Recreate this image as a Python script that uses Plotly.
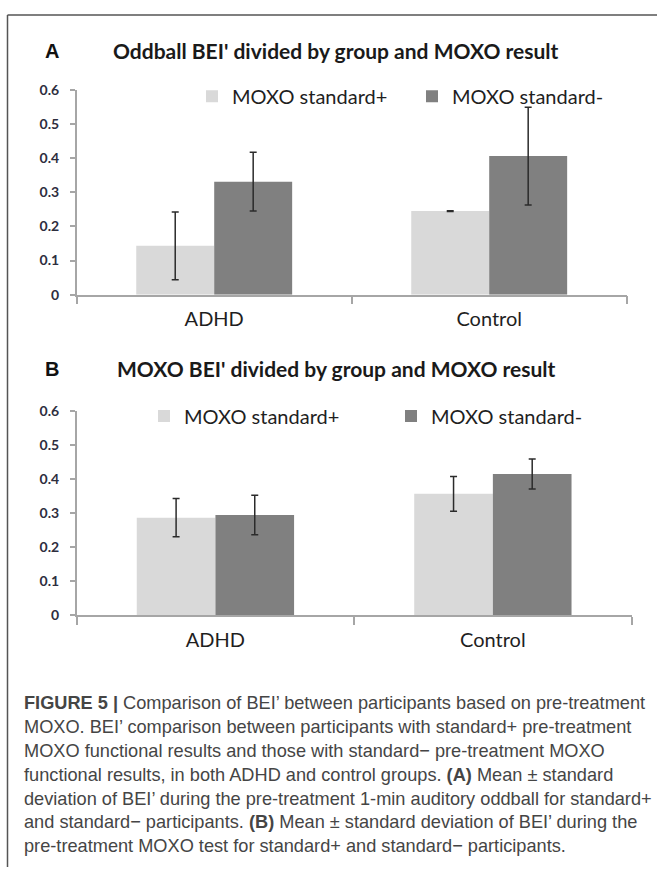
import plotly.graph_objects as go

W, H = 658, 875

groups = ["ADHD", "Control"]
series_names = ["MOXO standard+", "MOXO standard-"]

# Panel A: Oddball BEI'
a_plus_mean = [0.143, 0.245]
a_plus_sd = [0.099, 0.001]
a_minus_mean = [0.331, 0.406]
a_minus_sd = [0.086, 0.143]

# Panel B: MOXO BEI'
b_plus_mean = [0.287, 0.357]
b_plus_sd = [0.056, 0.051]
b_minus_mean = [0.295, 0.415]
b_minus_sd = [0.058, 0.044]

y_ticks = [0, 0.1, 0.2, 0.3, 0.4, 0.5, 0.6]
y_tick_text = ["0", "0.1", "0.2", "0.3", "0.4", "0.5", "0.6"]

title_a = "Oddball BEI' divided by group and MOXO result"
title_b = "MOXO BEI' divided by group and MOXO result"

caption_lines = [
    "<b>FIGURE 5 |</b> Comparison of BEI’ between participants based on pre-treatment",
    "MOXO. BEI’ comparison between participants with standard+ pre-treatment",
    "MOXO functional results and those with standard− pre-treatment MOXO",
    "functional results, in both ADHD and control groups. <b>(A)</b> Mean ± standard",
    "deviation of BEI’ during the pre-treatment 1-min auditory oddball for standard+",
    "and standard− participants. <b>(B)</b> Mean ± standard deviation of BEI’ during the",
    "pre-treatment MOXO test for standard+ and standard− participants.",
]

LIGHT = "#d9d9d9"
DARK = "#808080"
ERR = "#2b2b2b"
AXIS = "#a6a6a6"
CHART_FONT = "Lato"


def px_x(x):
    return x / W


def px_y(y):
    return 1 - y / H


fig = go.Figure()

panels = [
    ("x", "y", "legend", a_plus_mean, a_plus_sd, a_minus_mean, a_minus_sd),
    ("x2", "y2", "legend2", b_plus_mean, b_plus_sd, b_minus_mean, b_minus_sd),
]
for xa, ya, lg, pm, ps, mm, ms in panels:
    fig.add_trace(go.Bar(
        x=groups, y=pm, name=series_names[0], xaxis=xa, yaxis=ya, legend=lg,
        marker=dict(color=LIGHT, line=dict(width=0)),
        error_y=dict(type="data", array=ps, visible=True, color=ERR, thickness=1.5, width=3.5),
    ))
    fig.add_trace(go.Bar(
        x=groups, y=mm, name=series_names[1], xaxis=xa, yaxis=ya, legend=lg,
        marker=dict(color=DARK, line=dict(width=0)),
        error_y=dict(type="data", array=ms, visible=True, color=ERR, thickness=1.5, width=3.5),
    ))

xaxis_common = dict(
    type="category", showline=True, linecolor=AXIS, linewidth=1.5,
    ticks="outside", tickson="boundaries", ticklen=8, tickcolor=AXIS, tickwidth=1.5,
    showgrid=False, zeroline=False, ticklabelstandoff=6,
    tickfont=dict(family=CHART_FONT, size=20, color="#1f1f1f"),
)
yaxis_common = dict(
    range=[0, 0.6], tickvals=y_ticks, ticktext=y_tick_text,
    showline=True, linecolor=AXIS, linewidth=1.5,
    ticks="outside", ticklen=5, tickcolor=AXIS, tickwidth=1.5,
    showgrid=False, zeroline=False, ticklabelstandoff=8,
    tickfont=dict(family=CHART_FONT, size=14, color="#2e2e3e", weight="bold"),
)

fig.update_layout(
    width=W, height=H,
    margin=dict(l=0, r=0, t=0, b=0),
    paper_bgcolor="white", plot_bgcolor="white",
    barmode="group", bargap=0.433, bargroupgap=0,
    xaxis=dict(domain=[px_x(76.7), px_x(626.7)], anchor="y", **xaxis_common),
    yaxis=dict(domain=[px_y(291.3), px_y(82.5)], anchor="x", **yaxis_common),
    xaxis2=dict(domain=[px_x(76.7), px_x(631.6)], anchor="y2", **xaxis_common),
    yaxis2=dict(domain=[px_y(618.5), px_y(410)], anchor="x2", **yaxis_common),
    legend=dict(
        orientation="h", x=px_x(192), xanchor="left", y=px_y(89), yanchor="middle",
        entrywidth=175, entrywidthmode="pixels", bgcolor="rgba(0,0,0,0)",
        font=dict(family=CHART_FONT, size=20, color="#1f1f1f"),
    ),
    legend2=dict(
        orientation="h", x=px_x(144), xanchor="left", y=px_y(415), yanchor="middle",
        entrywidth=202, entrywidthmode="pixels", bgcolor="rgba(0,0,0,0)",
        font=dict(family=CHART_FONT, size=20, color="#1f1f1f"),
    ),
    showlegend=True,
)

annotations = [
    dict(text="<b>A</b>", x=px_x(52), y=px_y(42.5), xanchor="center", yanchor="middle",
         font=dict(family="Liberation Sans", size=20, color="#111111")),
    dict(text="<b>" + title_a + "</b>", x=px_x(335), y=px_y(42.5), xanchor="center", yanchor="middle",
         font=dict(family=CHART_FONT, size=21, color="#1a1a1a")),
    dict(text="<b>B</b>", x=px_x(52), y=px_y(367), xanchor="center", yanchor="middle",
         font=dict(family="Liberation Sans", size=20, color="#111111")),
    dict(text="<b>" + title_b + "</b>", x=px_x(336), y=px_y(367), xanchor="center", yanchor="middle",
         font=dict(family=CHART_FONT, size=21, color="#1a1a1a")),
]
for i, line in enumerate(caption_lines):
    annotations.append(dict(
        text=line, x=px_x(22), y=px_y(708 + 24.3 * i), xanchor="left", yanchor="middle",
        font=dict(family="Liberation Sans", size=18.2, color="#454545"),
    ))
for a in annotations:
    a.update(xref="paper", yref="paper", showarrow=False)
fig.update_layout(annotations=annotations)

fig.update_layout(shapes=[
    dict(type="line", xref="paper", yref="paper", x0=px_x(7.5), x1=px_x(657), y0=px_y(6), y1=px_y(6),
         line=dict(color="#555555", width=1.5)),
    dict(type="line", xref="paper", yref="paper", x0=px_x(7.5), x1=px_x(7.5), y0=px_y(6), y1=0,
         line=dict(color="#555555", width=1.5)),
])

fig.write_html(
    "out.html",
    config={"displayModeBar": False},
    post_script="document.body.style.margin='0';document.body.style.overflow='hidden';",
)
